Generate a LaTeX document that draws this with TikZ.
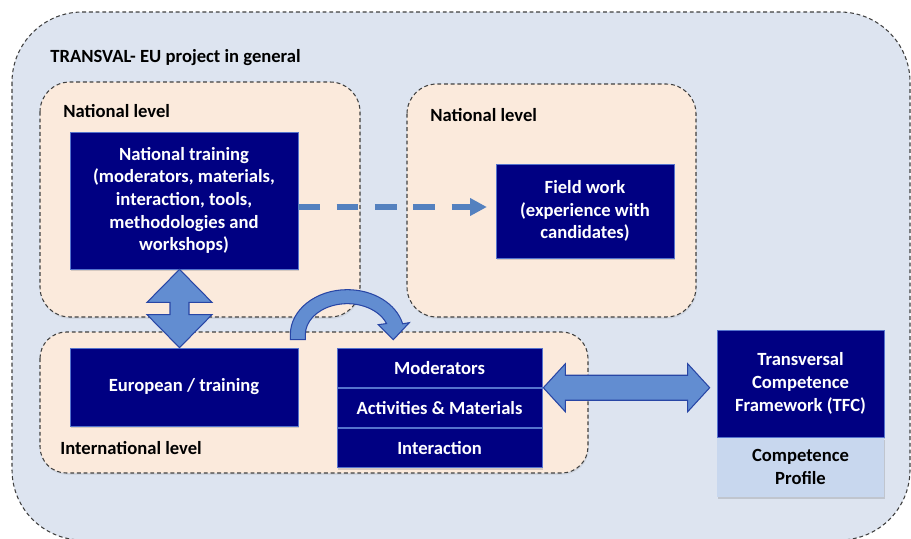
\documentclass[tikz,border=0pt]{standalone}
\usepackage{fontspec}
\setmainfont{Carlito}
\usepackage{tikz}
\usetikzlibrary{arrows.meta,positioning,calc,shadows}
\usepackage{xcolor}

\definecolor{outerblue}{RGB}{221,228,240}
\definecolor{peach}{RGB}{251,234,220}
\definecolor{navy}{RGB}{0,0,130}
\definecolor{navyedge}{RGB}{85,115,205}
\definecolor{arrowblue}{RGB}{98,141,209}
\definecolor{arrowedge}{RGB}{40,70,165}
\definecolor{dashblue}{RGB}{84,129,191}
\definecolor{profileblue}{RGB}{200,215,238}

\tikzset{
  lbl/.style={font=\fontsize{10.6}{12.9}\selectfont\bfseries},
  outerbox/.style={draw=black!75, line width=0.6pt, dash pattern=on 2.2pt off 1.6pt, fill=outerblue, rounded corners=40pt},
  levelbox/.style={draw=black!75, line width=0.6pt, dash pattern=on 2.2pt off 1.6pt, fill=peach, rounded corners=17pt,
    drop shadow={opacity=0.15, shadow xshift=0.4pt, shadow yshift=-1pt}},
  navybox/.style={lbl, rectangle, fill=navy, draw=navyedge, line width=0.4pt, text=white, align=center, inner sep=0pt,
    drop shadow={opacity=0.3, shadow xshift=0.5pt, shadow yshift=-1.2pt}},
  profbox/.style={lbl, rectangle, fill=profileblue, text=black, align=center, inner sep=0pt,
    drop shadow={opacity=0.3, shadow xshift=0.5pt, shadow yshift=-1.2pt}},
  levellabel/.style={lbl, anchor=west, inner sep=0pt},
  blockarrow/.style={fill=arrowblue, draw=arrowedge, line width=0.6pt, line join=miter},
  dasharrow/.style={draw=dashblue, line width=3pt, dash pattern=on 12.3pt off 9.5pt,
    -{Triangle[length=9.6pt,width=9.6pt]}, shorten >=5pt}
}

\begin{document}
\begin{tikzpicture}[x=0.02cm, y=-0.02cm]
    \useasboundingbox (0,0) rectangle (911,538);

    % Background
    \draw[outerbox] (12,12) rectangle (910,540);
    \node[levellabel] (title) at (50,58) {TRANSVAL- EU project in general};

    % Level boxes
    \draw[levelbox] (40,82) rectangle (360,317);
    \draw[levelbox] (407,84) rectangle (696,317);
    \draw[levelbox, rounded corners=15pt] (40,332) rectangle (588,473);
    \node[levellabel] (nat1) at (63,111) {National level};
    \node[levellabel] (nat2) at (430,115) {National level};
    \node[levellabel] (intl) at (60,448) {International level};

    % Training boxes
    \node[navybox, minimum width=4.56cm, minimum height=2.74cm] (ntrain) at (184,200.5)
        {National training\\(moderators, materials,\\interaction, tools,\\methodologies and\\workshops)};
    \node[navybox, minimum width=3.56cm, minimum height=1.88cm] (field) at (585,211)
        {Field work\\(experience with\\candidates)};
    \node[navybox, minimum width=4.56cm, minimum height=1.56cm] (eutrain) at (184,387) {European / training};

    % Stack
    \node[navybox, minimum width=4.1cm, minimum height=0.787cm] (mod) at (439.5,367.7) {Moderators};
    \node[navybox, minimum width=4.1cm, minimum height=0.787cm, below=0pt of mod] (actmat) {Activities \& Materials};
    \node[navybox, minimum width=4.1cm, minimum height=0.787cm, below=0pt of actmat] (inter) {Interaction};

    % TFC
    \node[navybox, minimum width=3.34cm, minimum height=2.14cm] (tfc) at (800.5,383.5)
        {Transversal\\Competence\\Framework (TFC)};
    \node[profbox, minimum width=3.34cm, minimum height=1.18cm, below=0pt of tfc] (profile) {Competence\\Profile};

    % Dashed arrow
    \coordinate (ds) at ($(ntrain.east)+(0,6.5)$);
    \draw[dasharrow] (ds) -- (field.west |- ds);

    % Up-down arrow
    \coordinate (vt) at ($(ntrain.south)+(-4.5,0)$);
    \coordinate (vb) at ($(eutrain.north)+(-4.5,0)$);
    \filldraw[blockarrow] (vt) -- ++(32.5,33) -- ++(-23,0) -- ($(vb)+(9.5,-33)$) -- ++(23,0) -- (vb)
        -- ++(-32.5,-33) -- ++(23,0) -- ($(vt)+(-9.5,33)$) -- ++(-23,0) -- cycle;

    % Curved arrow
    \begin{scope}[shift={(eutrain.north east)}]
        \filldraw[blockarrow] (-8,-8) -- (-8,-13) arc[start angle=180, end angle=346, x radius=57, y radius=45]
            -- (111,-25) -- (95,-8) -- (80,-23) -- (88.2,-24.1)
            arc[start angle=339, end angle=180, x radius=42, y radius=31] -- (7,-8) -- cycle;
    \end{scope}

    % Left-right arrow
    \coordinate (hl) at ($(mod.south east)+(1,0)$);
    \coordinate (hr) at ($(tfc.west |- mod.south east)+(-7,0)$);
    \filldraw[blockarrow] (hl) -- ++(22,-24) -- ++(0,11.5) -- ($(hr)+(-22,-12.5)$) -- ++(0,-11.5) -- (hr)
        -- ++(-22,24) -- ++(0,-11.5) -- ($(hl)+(22,12.5)$) -- ++(0,11.5) -- cycle;

\end{tikzpicture}
\end{document}
